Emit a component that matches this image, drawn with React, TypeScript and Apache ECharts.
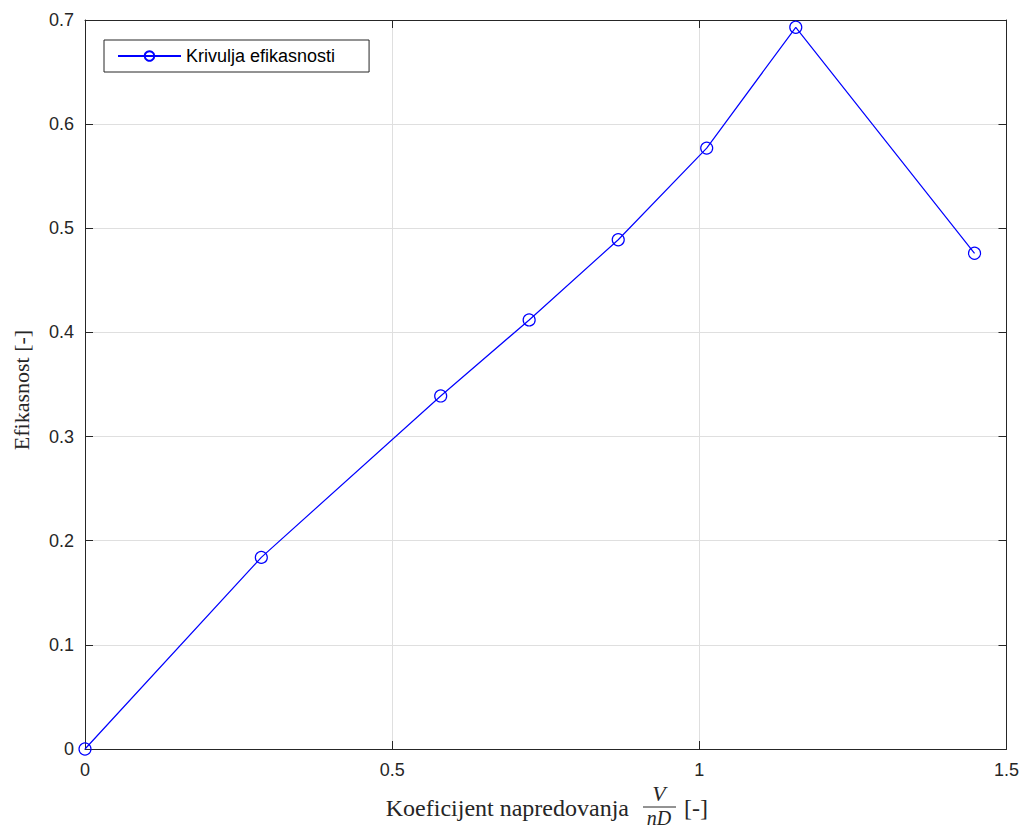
import React, { useEffect, useRef } from "react";
import * as echarts from "echarts";

const xValues = [0, 0.287, 0.579, 0.723, 0.868, 1.012, 1.157, 1.448];
const yValues = [0, 0.184, 0.339, 0.412, 0.489, 0.577, 0.693, 0.476];
const seriesName = "Krivulja efikasnosti";
const xTitle = "Koeficijent napredovanja";
const yTitle = "Efikasnost [-]";

const AX = "#262626";
const SANS = "Liberation Sans, Arial, sans-serif";
const SERIF = "Liberation Serif, Times New Roman, serif";

export default function App() {
  const ref = useRef<HTMLDivElement>(null);
  useEffect(() => {
    if (!ref.current) return;
    const chart = echarts.init(ref.current, null, { renderer: "svg" });
    const boxAxis = {
      type: "value",
      min: 0,
      axisTick: { show: true, inside: true, length: 8, lineStyle: { color: AX } },
      axisLabel: { show: false },
      splitLine: { show: false },
      axisLine: { show: true, onZero: false, lineStyle: { color: AX, width: 1 } },
    };
    chart.setOption({
      animation: false,
      backgroundColor: "#ffffff",
      grid: { left: 85, right: 15, top: 20, bottom: 83, containLabel: false },
      legend: {
        left: 104,
        top: 40,
        orient: "vertical",
        backgroundColor: "#ffffff",
        borderColor: AX,
        borderWidth: 1,
        borderRadius: 0,
        padding: [7, 34, 7, 13],
        itemWidth: 63,
        itemHeight: 12,
        textStyle: { fontSize: 18, fontFamily: SANS, color: "#000" },
        data: [seriesName],
      },
      xAxis: [
        {
          type: "value",
          min: 0,
          max: 1.5,
          interval: 0.5,
          position: "bottom",
          axisLine: { show: true, onZero: false, lineStyle: { color: AX, width: 1 } },
          axisTick: { show: true, inside: true, length: 8, lineStyle: { color: AX } },
          axisLabel: { fontSize: 18, fontFamily: SANS, color: AX, margin: 12 },
          splitLine: { show: true, lineStyle: { color: "#dfdfdf", width: 1 } },
        },
        { ...boxAxis, max: 1.5, interval: 0.5, position: "top" },
      ],
      yAxis: [
        {
          type: "value",
          min: 0,
          max: 0.7,
          interval: 0.1,
          position: "left",
          axisLine: { show: true, onZero: false, lineStyle: { color: AX, width: 1 } },
          axisTick: { show: true, inside: true, length: 8, lineStyle: { color: AX } },
          axisLabel: { fontSize: 18, fontFamily: SANS, color: AX, margin: 11 },
          splitLine: { show: true, lineStyle: { color: "#dfdfdf", width: 1 } },
        },
        { ...boxAxis, max: 0.7, interval: 0.1, position: "right" },
      ],
      series: [
        {
          name: seriesName,
          type: "line",
          xAxisIndex: 0,
          yAxisIndex: 0,
          data: xValues.map((x, i) => [x, yValues[i]]),
          symbol: "circle",
          symbolSize: 12,
          showAllSymbol: true,
          lineStyle: { color: "#0000ff", width: 1.2 },
          itemStyle: { color: "rgba(0,0,0,0)", borderColor: "#0000ff", borderWidth: 1.2 },
          clip: false,
        },
      ],
      graphic: [
        {
          type: "text",
          x: 21,
          y: 390,
          rotation: Math.PI / 2,
          style: {
            text: yTitle,
            font: `22px ${SERIF}`,
            fill: AX,
            align: "center",
            verticalAlign: "middle",
          },
        },
        {
          type: "text",
          x: 629,
          y: 808,
          style: {
            text: xTitle,
            font: `24px ${SERIF}`,
            fill: AX,
            align: "right",
            verticalAlign: "middle",
          },
        },
        {
          type: "text",
          x: 659,
          y: 793,
          style: {
            text: "V",
            font: `italic 22px ${SERIF}`,
            fill: AX,
            align: "center",
            verticalAlign: "middle",
          },
        },
        {
          type: "line",
          shape: { x1: 643, y1: 807, x2: 676, y2: 807 },
          style: { stroke: AX, lineWidth: 1 },
        },
        {
          type: "text",
          x: 659,
          y: 818,
          style: {
            text: "nD",
            font: `italic 20px ${SERIF}`,
            fill: AX,
            align: "center",
            verticalAlign: "middle",
          },
        },
        {
          type: "text",
          x: 684,
          y: 808,
          style: {
            text: "[-]",
            font: `24px ${SERIF}`,
            fill: AX,
            align: "left",
            verticalAlign: "middle",
          },
        },
      ],
    });
    return () => chart.dispose();
  }, []);
  return (
    <div
      ref={ref}
      style={{ position: "fixed", left: 0, top: 0, width: 1022, height: 832 }}
    />
  );
}
